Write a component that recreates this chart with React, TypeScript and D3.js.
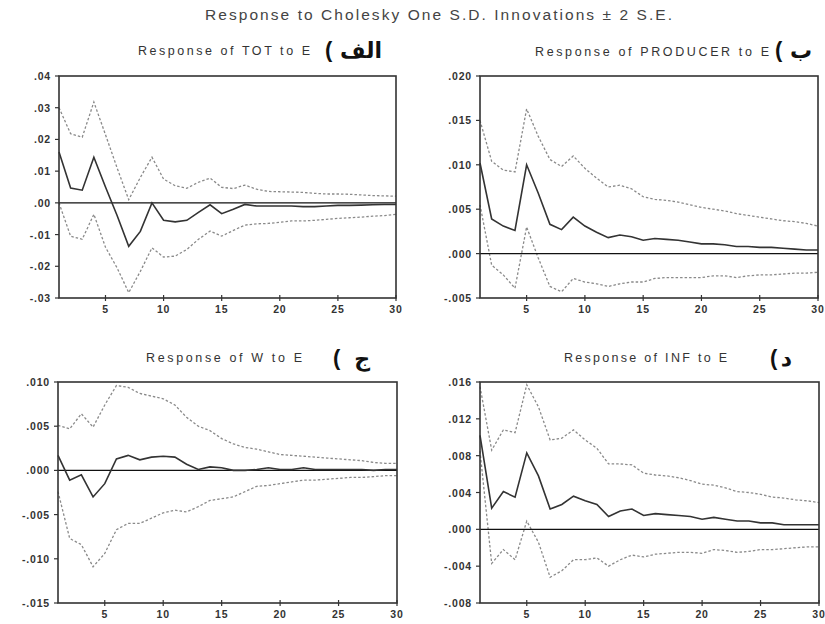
import React from "react";
import * as d3 from "d3";

const periods = d3.range(1, 31);

const TOT_resp = [0.016, 0.0047, 0.004, 0.0144, 0.005, -0.004, -0.0137, -0.009, 0.0, -0.0055, -0.006, -0.0055, -0.003, -0.0006, -0.0034, -0.002, -0.0005, -0.001, -0.001, -0.001, -0.001, -0.0012, -0.0012, -0.001, -0.0008, -0.0008, -0.0007, -0.0006, -0.0005, -0.0005];
const TOT_up = [0.030, 0.0218, 0.0207, 0.0318, 0.0215, 0.011, 0.001, 0.008, 0.0144, 0.0075, 0.0054, 0.0046, 0.0065, 0.0078, 0.0049, 0.0045, 0.0056, 0.0043, 0.0036, 0.0035, 0.0034, 0.0033, 0.003, 0.0028, 0.0028, 0.0027, 0.0025, 0.0023, 0.0022, 0.0021];
const TOT_lo = [0.0, -0.0105, -0.0115, -0.0036, -0.014, -0.0205, -0.0283, -0.0216, -0.0142, -0.0171, -0.0168, -0.0147, -0.0115, -0.0089, -0.0105, -0.0087, -0.007, -0.0066, -0.0065, -0.0061, -0.0057, -0.0057, -0.0055, -0.0052, -0.0049, -0.0047, -0.0045, -0.0042, -0.004, -0.0036];

const PROD_resp = [0.0102, 0.0039, 0.0031, 0.0026, 0.0100, 0.0068, 0.0033, 0.0027, 0.0041, 0.0031, 0.0024, 0.0018, 0.0021, 0.0019, 0.0015, 0.0017, 0.0016, 0.0015, 0.0013, 0.0011, 0.0011, 0.0010, 0.0008, 0.0008, 0.0007, 0.0007, 0.0006, 0.0005, 0.0004, 0.0004];
const PROD_up = [0.015, 0.0104, 0.0094, 0.0092, 0.0163, 0.0132, 0.0106, 0.0098, 0.011, 0.0096, 0.0085, 0.0075, 0.0077, 0.0073, 0.0064, 0.0061, 0.006, 0.0058, 0.0055, 0.0052, 0.005, 0.0048, 0.0045, 0.0043, 0.0041, 0.0039, 0.0037, 0.0036, 0.0034, 0.0031];
const PROD_lo = [0.0055, -0.0013, -0.0024, -0.0039, 0.003, -0.0005, -0.0037, -0.0043, -0.0028, -0.0032, -0.0034, -0.0037, -0.0034, -0.0032, -0.0032, -0.0028, -0.0027, -0.0027, -0.0027, -0.0027, -0.0025, -0.0025, -0.0027, -0.0025, -0.0024, -0.0024, -0.0023, -0.0022, -0.0022, -0.0021];

const W_resp = [0.0017, -0.0011, -0.0005, -0.003, -0.0015, 0.0013, 0.0017, 0.0012, 0.0015, 0.0016, 0.0015, 0.0007, 0.0001, 0.0004, 0.0003, 0.0, 0.0, 0.0001, 0.0003, 0.0001, 0.0001, 0.0003, 0.0001, 0.0001, 0.0001, 0.0001, 0.0001, 0.0, 0.0001, 0.0001];
const W_up = [0.0051, 0.0047, 0.0064, 0.0049, 0.0074, 0.0096, 0.0094, 0.0087, 0.0084, 0.0081, 0.0074, 0.006, 0.005, 0.0045, 0.0036, 0.003, 0.0026, 0.0024, 0.0021, 0.0018, 0.0017, 0.0016, 0.0015, 0.0014, 0.0013, 0.0012, 0.0011, 0.0009, 0.0008, 0.0008];
const W_lo = [-0.0024, -0.0077, -0.0084, -0.0109, -0.0094, -0.0067, -0.006, -0.006, -0.0054, -0.0048, -0.0045, -0.0047, -0.0041, -0.0034, -0.0032, -0.003, -0.0024, -0.0018, -0.0017, -0.0015, -0.0013, -0.0011, -0.0011, -0.001, -0.0009, -0.0008, -0.0008, -0.0007, -0.0006, -0.0006];

const INF_resp = [0.0102, 0.0023, 0.0041, 0.0035, 0.0083, 0.0058, 0.0022, 0.0027, 0.0036, 0.0031, 0.0027, 0.0014, 0.002, 0.0022, 0.0015, 0.0017, 0.0016, 0.0015, 0.0014, 0.0011, 0.0013, 0.0011, 0.0009, 0.0009, 0.0007, 0.0007, 0.0005, 0.0005, 0.0005, 0.0005];
const INF_up = [0.0155, 0.0086, 0.0108, 0.0105, 0.0157, 0.0133, 0.0097, 0.0099, 0.0108, 0.0097, 0.0088, 0.0071, 0.0071, 0.007, 0.0061, 0.0059, 0.0058, 0.0056, 0.0053, 0.0049, 0.0048, 0.0045, 0.0041, 0.004, 0.0038, 0.0035, 0.0034, 0.0032, 0.0031, 0.0029];
const INF_lo = [0.0085, -0.0037, -0.0022, -0.0033, 0.0009, -0.0014, -0.0052, -0.0045, -0.0033, -0.0033, -0.0031, -0.004, -0.0033, -0.0028, -0.003, -0.0027, -0.0026, -0.0025, -0.0025, -0.0026, -0.0022, -0.0023, -0.0025, -0.0024, -0.0022, -0.0022, -0.0021, -0.002, -0.0019, -0.0019];

const xTicks = [5, 10, 15, 20, 25, 30];

const TOT_yTicks = [0.04, 0.03, 0.02, 0.01, 0.0, -0.01, -0.02, -0.03];
const TOT_yLabels = [".04", ".03", ".02", ".01", ".00", "-.01", "-.02", "-.03"];
const PROD_yTicks = [0.02, 0.015, 0.01, 0.005, 0.0, -0.005];
const PROD_yLabels = [".020", ".015", ".010", ".005", ".000", "-.005"];
const W_yTicks = [0.01, 0.005, 0.0, -0.005, -0.01, -0.015];
const W_yLabels = [".010", ".005", ".000", "-.005", "-.010", "-.015"];
const INF_yTicks = [0.016, 0.012, 0.008, 0.004, 0.0, -0.004, -0.008];
const INF_yLabels = [".016", ".012", ".008", ".004", ".000", "-.004", "-.008"];

const mainTitle = "Response to Cholesky One S.D. Innovations \u00B1 2 S.E.";
const titles = ["Response of TOT to E", "Response of PRODUCER to E", "Response of W to E", "Response of INF to E"];
const letters = ["\u0627\u0644\u0641", "\u0628", "\u062C", "\u062F"];

type PanelProps = {
  box: { l: number; r: number; t: number; b: number };
  yTicks: number[];
  yLabels: string[];
  resp: number[];
  up: number[];
  lo: number[];
  title: string;
  titleBox: { x0: number; x1: number; y: number };
  letter: string;
  letterBox: { x0: number; x1: number; y: number; size: number };
};

function Panel(p: PanelProps) {
  const { box } = p;
  const x = d3.scaleLinear().domain([1, 30]).range([box.l, box.r]);
  const y = d3.scaleLinear().domain([d3.min(p.yTicks)!, d3.max(p.yTicks)!]).range([box.b, box.t]);
  const line = d3.line<number>().x((_, i) => x(periods[i])).y((v) => y(v));
  const tickCol = "#333";
  return (
    <g>
      <text x={p.titleBox.x0} y={p.titleBox.y} fontFamily="Liberation Sans, Arial, sans-serif" fontSize={12.5} fill="#333" textLength={p.titleBox.x1 - p.titleBox.x0} lengthAdjust="spacing">{p.title}</text>
      <text x={p.letterBox.x0} y={p.letterBox.y - 1} fontFamily="Liberation Sans, Arial, sans-serif" fontWeight="bold" fontSize={p.letterBox.size} fill="#111">(</text>
      <text x={p.letterBox.x1} y={p.letterBox.y} textAnchor="end" fontFamily="DejaVu Sans, Noto Sans, sans-serif" fontWeight="bold" fontSize={p.letterBox.size} fill="#111">{p.letter}</text>
      <path d={line(p.up) || ""} fill="none" stroke="#8a8a8a" strokeWidth={1.3} strokeDasharray="2.5,2" />
      <path d={line(p.lo) || ""} fill="none" stroke="#8a8a8a" strokeWidth={1.3} strokeDasharray="2.5,2" />
      <line x1={box.l} x2={box.r} y1={y(0)} y2={y(0)} stroke="#111" strokeWidth={1.4} />
      <path d={line(p.resp) || ""} fill="none" stroke="#333" strokeWidth={1.6} />
      <rect x={box.l} y={box.t} width={box.r - box.l} height={box.b - box.t} fill="none" stroke="#333" strokeWidth={1.6} />
      {p.yTicks.map((v, i) => (
        <g key={"y" + i}>
          <line x1={box.l - 4} x2={box.l} y1={y(v)} y2={y(v)} stroke={tickCol} strokeWidth={1.2} />
          <text x={box.l - 8} y={y(v) + 4} textAnchor="end" fontFamily="Liberation Sans, Arial, sans-serif" fontWeight="bold" fontSize={10.5} letterSpacing={0.8} fill="#333">{p.yLabels[i]}</text>
        </g>
      ))}
      {xTicks.map((v) => (
        <g key={"x" + v}>
          <line x1={x(v)} x2={x(v)} y1={box.b - 3} y2={box.b + 3} stroke={tickCol} strokeWidth={1.2} />
          <text x={x(v)} y={box.b + 15} textAnchor="middle" fontFamily="Liberation Sans, Arial, sans-serif" fontWeight="bold" fontSize={10.5} letterSpacing={0.8} fill="#333">{String(v)}</text>
        </g>
      ))}
    </g>
  );
}

export default function App() {
  return (
    <svg width={825} height={624} style={{ position: "absolute", left: 0, top: 0, background: "#fff" }}>
      <rect x={0} y={0} width={825} height={624} fill="#fff" />
      <text x={205} y={20} fontFamily="Liberation Sans, Arial, sans-serif" fontSize={15.5} fill="#444" textLength={467} lengthAdjust="spacing">{mainTitle}</text>
      <Panel box={{ l: 59, r: 396, t: 76, b: 298 }} yTicks={TOT_yTicks} yLabels={TOT_yLabels} resp={TOT_resp} up={TOT_up} lo={TOT_lo}
        title={titles[0]} titleBox={{ x0: 138, x1: 310, y: 55 }} letter={letters[0]} letterBox={{ x0: 325, x1: 382, y: 58, size: 22 }} />
      <Panel box={{ l: 480, r: 818, t: 76, b: 298 }} yTicks={PROD_yTicks} yLabels={PROD_yLabels} resp={PROD_resp} up={PROD_up} lo={PROD_lo}
        title={titles[1]} titleBox={{ x0: 535, x1: 769, y: 56 }} letter={letters[1]} letterBox={{ x0: 775, x1: 812, y: 58, size: 22 }} />
      <Panel box={{ l: 58, r: 397, t: 382, b: 603 }} yTicks={W_yTicks} yLabels={W_yLabels} resp={W_resp} up={W_up} lo={W_lo}
        title={titles[2]} titleBox={{ x0: 146, x1: 302, y: 362 }} letter={letters[2]} letterBox={{ x0: 333, x1: 370, y: 366, size: 22 }} />
      <Panel box={{ l: 480, r: 819, t: 382, b: 603 }} yTicks={INF_yTicks} yLabels={INF_yLabels} resp={INF_resp} up={INF_up} lo={INF_lo}
        title={titles[3]} titleBox={{ x0: 564, x1: 727, y: 362 }} letter={letters[3]} letterBox={{ x0: 770, x1: 792, y: 366, size: 22 }} />
    </svg>
  );
}
